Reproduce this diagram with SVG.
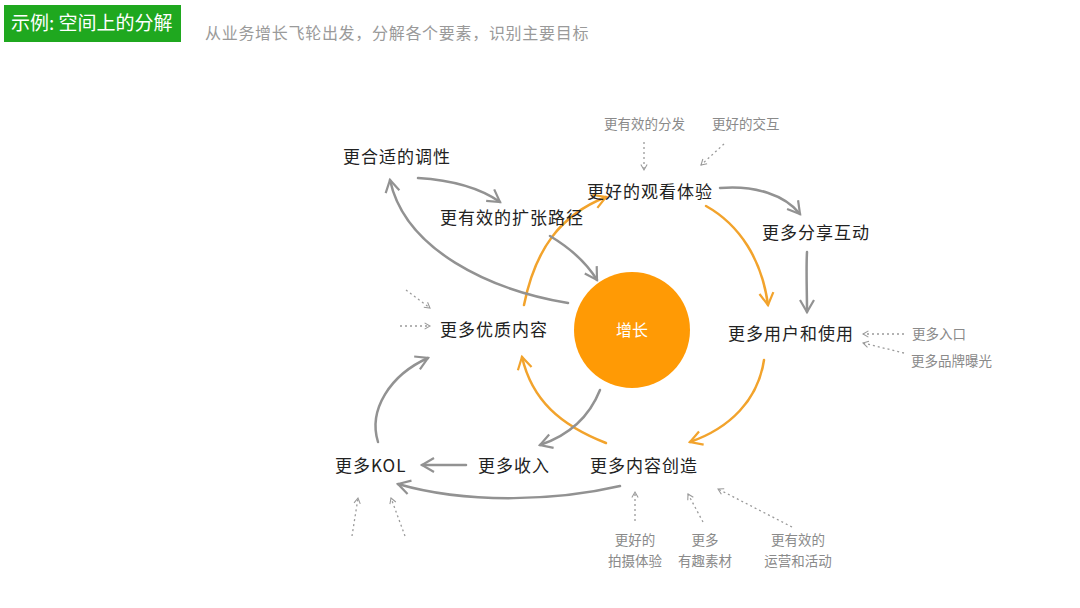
<svg xmlns="http://www.w3.org/2000/svg" width="1080" height="608" viewBox="0 0 1080 608">
<defs>
<style>
.title{font-family:"Noto Sans CJK SC","Noto Sans",sans-serif;font-size:19px;fill:#fff}
.sub{font-family:"Noto Sans CJK SC","Noto Sans",sans-serif;font-size:16px;fill:#9a9a9a;letter-spacing:0.7px}
.node{font-family:"Noto Sans CJK SC","Noto Sans",sans-serif;font-size:17px;fill:#222;letter-spacing:1px}
.hint{font-family:"Noto Sans CJK SC","Noto Sans",sans-serif;font-size:13.5px;fill:#8a8a8a}
.center{font-family:"Noto Sans CJK SC","Noto Sans",sans-serif;font-size:16px;fill:#fff}
.og{fill:none;stroke:#f2a32c;stroke-width:2.5;stroke-linecap:round;marker-end:url(#ao)}
.gr{fill:none;stroke:#929292;stroke-width:2.5;stroke-linecap:round;marker-end:url(#ag)}
.dt{fill:none;stroke:#9a9a9a;stroke-width:1.3;stroke-dasharray:2 3;marker-end:url(#ad)}
</style>
<marker id="ao" viewBox="0 0 20 20" refX="16" refY="10" markerWidth="20" markerHeight="20" markerUnits="userSpaceOnUse" orient="auto">
<path d="M4 3 L16 10 L4 17" fill="none" stroke="#f2a32c" stroke-width="2.2"/>
</marker>
<marker id="ag" viewBox="0 0 20 20" refX="16" refY="10" markerWidth="20" markerHeight="20" markerUnits="userSpaceOnUse" orient="auto">
<path d="M4 3 L16 10 L4 17" fill="none" stroke="#929292" stroke-width="2.2"/>
</marker>
<marker id="ad" viewBox="0 0 10 10" refX="8" refY="5" markerWidth="9" markerHeight="9" markerUnits="userSpaceOnUse" orient="auto">
<path d="M2 1.5 L8 5 L2 8.5" fill="none" stroke="#9a9a9a" stroke-width="1.2"/>
</marker>
</defs>
<rect width="1080" height="608" fill="#fff"/>
<g id="header">
<rect x="4" y="5" width="177" height="37" fill="#1fa81f"/>
<text class="title" x="11" y="30">示例: 空间上的分解</text>
<text class="sub" x="205" y="39">从业务增长飞轮出发，分解各个要素，识别主要目标</text>
</g>
<g id="connectors">
<path class="og" d="M524 305 C535 250 560 215 606 197"/>
<path class="og" d="M706 206 C740 225 762 260 768 305"/>
<path class="og" d="M764 360 C758 400 730 428 690 442"/>
<path class="og" d="M606 443 C560 425 532 400 522 357"/>
<path class="gr" d="M418 178 C450 180 480 188 500 202"/>
<path class="gr" d="M550 236 C570 248 586 262 597 280"/>
<path class="gr" d="M568 303 C490 290 405 250 390 180"/>
<path class="gr" d="M720 188 C755 185 785 195 800 214"/>
<path class="gr" d="M807 252 C806 270 807 290 807 312"/>
<path class="gr" d="M600 390 C590 415 570 435 540 445"/>
<path class="gr" d="M466 465 L422 465"/>
<path class="gr" d="M620 486 C560 500 470 505 398 484"/>
<path class="gr" d="M378 442 C368 410 390 375 428 358"/>
<path class="dt" d="M644 142 L644 170"/>
<path class="dt" d="M724 144 L701 165"/>
<path class="dt" d="M406 290 L430 308"/>
<path class="dt" d="M400 326 L430 326"/>
<path class="dt" d="M904 334 L863 334"/>
<path class="dt" d="M904 353 L863 343"/>
<path class="dt" d="M635 521 L635 492"/>
<path class="dt" d="M703 522 L688 494"/>
<path class="dt" d="M792 527 L718 489"/>
<path class="dt" d="M352 536 L358 498"/>
<path class="dt" d="M405 536 L391 498"/>
</g>
<g id="n-growth">
<circle cx="632" cy="330" r="58" fill="#ff9a05"/>
<text class="center" x="632" y="336" text-anchor="middle">增长</text>
</g>
<g id="n-tone"><text class="node" x="343" y="163">更合适的调性</text></g>
<g id="n-expand"><text class="node" x="440" y="224">更有效的扩张路径</text></g>
<g id="n-watch"><text class="node" x="587" y="198">更好的观看体验</text></g>
<g id="n-share"><text class="node" x="762" y="239">更多分享互动</text></g>
<g id="n-users"><text class="node" x="728" y="340">更多用户和使用</text></g>
<g id="n-quality"><text class="node" x="440" y="336">更多优质内容</text></g>
<g id="n-create"><text class="node" x="590" y="472">更多内容创造</text></g>
<g id="n-income"><text class="node" x="478" y="472">更多收入</text></g>
<g id="n-kol"><text class="node" x="335" y="472">更多KOL</text></g>
<g id="h-dist"><text class="hint" x="604" y="129">更有效的分发</text></g>
<g id="h-inter"><text class="hint" x="712" y="129">更好的交互</text></g>
<g id="h-entry"><text class="hint" x="912" y="339">更多入口</text></g>
<g id="h-brand"><text class="hint" x="911" y="366">更多品牌曝光</text></g>
<g id="h-shoot"><text class="hint" x="635" y="545" text-anchor="middle">更好的</text><text class="hint" x="635" y="566" text-anchor="middle">拍摄体验</text></g>
<g id="h-material"><text class="hint" x="705" y="545" text-anchor="middle">更多</text><text class="hint" x="705" y="566" text-anchor="middle">有趣素材</text></g>
<g id="h-ops"><text class="hint" x="798" y="545" text-anchor="middle">更有效的</text><text class="hint" x="798" y="566" text-anchor="middle">运营和活动</text></g>
</svg>
